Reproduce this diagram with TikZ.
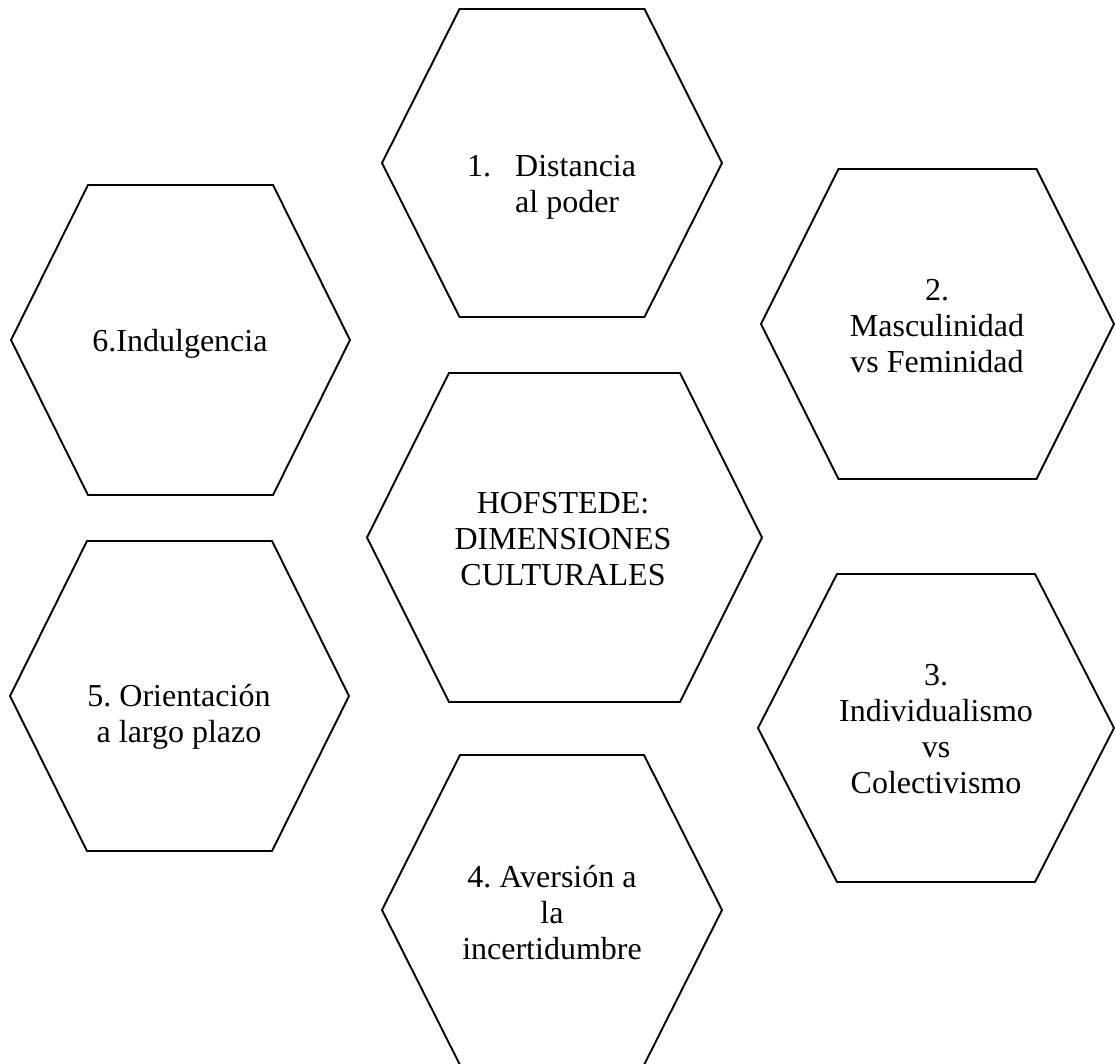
\documentclass[tikz,border=0pt]{standalone}
\usepackage{fontspec}
\setmainfont{Liberation Serif}
\usetikzlibrary{calc}
\frenchspacing
\tikzset{
  hexline/.style={draw=black, line width=1.9pt, line join=miter},
  txt/.style={font=\fontsize{32}{36}\selectfont, inner sep=0pt, align=center, anchor=north, text=black},
}
% name, cx, cy, half width, top offset, half height
\newcommand\hexa[6]{%
  \coordinate (#1) at (#2,#3);
  \draw[hexline] ({#2-#4},#3) -- ({#2-#4+#5},{#3-#6}) -- ({#2+#4-#5},{#3-#6})
    -- ({#2+#4},#3) -- ({#2+#4-#5},{#3+#6}) -- ({#2-#4+#5},{#3+#6}) -- cycle;
}
\begin{document}
\begin{tikzpicture}[x=1pt, y=-1pt]
\useasboundingbox (0,0) rectangle (1116,1063);
\clip (0,0) rectangle (1116,1063);
\fill[white] (0,0) rectangle (1116,1063);

\hexa{h1}{552}{163}{170}{77.5}{154}
\hexa{h2}{937.5}{324}{176.5}{77.5}{155}
\hexa{h6}{180.5}{340}{169.5}{77}{155}
\hexa{hc}{564.5}{537.5}{197.5}{82}{164.5}
\hexa{h5}{179.5}{696}{169.5}{77}{155}
\hexa{h3}{936}{728}{178}{79}{154}
\hexa{h4}{552}{910}{170}{78}{155}

\node[txt, anchor=north west, align=left] (t1) at (467,146)
  {\rule{0pt}{30pt}\makebox[48pt][l]{1.}Distancia\\\hspace*{48pt}al poder};
\node[txt] (t2) at (937,270) {\rule{0pt}{30pt}2.\\Masculinidad\\vs Feminidad};
\node[txt] (t6) at (180,321) {\rule{0pt}{30pt}6.Indulgencia};
\node[txt] (tc) at (563,483) {\rule{0pt}{30pt}HOFSTEDE:\\DIMENSIONES\\CULTURALES};
\node[txt] (t5) at (179,676) {\rule{0pt}{30pt}5. Orientación\\a largo plazo};
\node[txt] (t3) at (936,655) {\rule{0pt}{30pt}3.\\Individualismo\\vs\\Colectivismo};
\node[txt] (t4) at (552,857) {\rule{0pt}{30pt}4. Aversión a\\la\\incertidumbre};
\end{tikzpicture}
\end{document}
